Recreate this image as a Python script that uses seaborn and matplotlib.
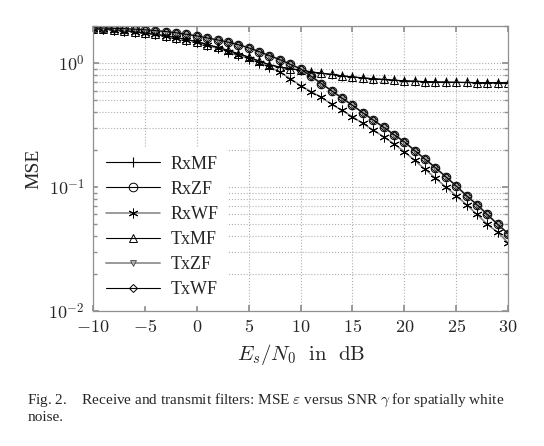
import numpy as np
import pandas as pd
import matplotlib
matplotlib.use("Agg")
import matplotlib.pyplot as plt
import seaborn as sns

snr_db = list(range(-10, 31))

mse_mf = [1.90, 1.88, 1.86, 1.83, 1.79, 1.75, 1.71, 1.66, 1.61, 1.55,
          1.49, 1.41, 1.34, 1.27, 1.19, 1.12, 1.04, 0.97, 0.93, 0.90,
          0.88, 0.85, 0.83, 0.81, 0.79, 0.775, 0.76, 0.748, 0.738, 0.728,
          0.72, 0.714, 0.709, 0.705, 0.702, 0.70, 0.698, 0.697, 0.696, 0.695, 0.695]

mse_zf = [1.93, 1.92, 1.91, 1.90, 1.88, 1.86, 1.83, 1.80, 1.76, 1.71,
          1.66, 1.60, 1.54, 1.48, 1.41, 1.33, 1.24, 1.15, 1.07, 0.98,
          0.90, 0.785, 0.685, 0.598, 0.522, 0.457, 0.398, 0.348, 0.304, 0.265,
          0.232, 0.197, 0.168, 0.143, 0.121, 0.102, 0.085, 0.072, 0.060, 0.050, 0.042]

mse_wf = [1.90, 1.88, 1.86, 1.83, 1.79, 1.75, 1.71, 1.66, 1.61, 1.55,
          1.49, 1.39, 1.32, 1.24, 1.16, 1.09, 1.01, 0.93, 0.85, 0.75,
          0.66, 0.59, 0.53, 0.465, 0.415, 0.37, 0.326, 0.288, 0.255, 0.223,
          0.193, 0.164, 0.139, 0.118, 0.100, 0.085, 0.072, 0.060, 0.050, 0.043, 0.0355]

series_names = ["RxMF", "RxZF", "RxWF", "TxMF", "TxZF", "TxWF"]
series_values = [mse_mf, mse_zf, mse_wf, mse_mf, mse_zf, mse_zf]

xticks = [-10, -5, 0, 5, 10, 15, 20, 25, 30]
yticks = [1e-2, 1e-1, 1e0]
ytick_labels = [r"$10^{-2}$", r"$10^{-1}$", r"$10^{0}$"]

sns.set_theme(style="white")
plt.rcParams["font.family"] = ["Liberation Serif", "DejaVu Serif"]
plt.rcParams["mathtext.fontset"] = "cm"

fig = plt.figure(figsize=(5.44, 4.46), dpi=100)
ax = fig.add_axes([0.171, 0.303, 0.763, 0.639])

styles = {
    "RxMF": dict(color="black", marker="+", markersize=7, markerfacecolor="none",
                 markeredgecolor="black", markeredgewidth=0.8, linewidth=0.8),
    "RxZF": dict(color="black", marker="o", markersize=6.2, markerfacecolor="none",
                 markeredgecolor="black", markeredgewidth=0.7, linewidth=0.8),
    "RxWF": dict(color="#808080", marker=(6, 2, 0), markersize=7, markerfacecolor="none",
                 markeredgecolor="black", markeredgewidth=0.7, linewidth=1.1),
    "TxMF": dict(color="black", marker="^", markersize=5.5, markerfacecolor="none",
                 markeredgecolor="black", markeredgewidth=0.7, linewidth=0.8),
    "TxZF": dict(color="#999999", marker="v", markersize=5.0, markerfacecolor="#b0b0b0",
                 markeredgecolor="#333333", markeredgewidth=0.5, linewidth=1.4),
    "TxWF": dict(color="black", marker="D", markersize=4.2, markerfacecolor="none",
                 markeredgecolor="black", markeredgewidth=0.7, linewidth=0.8),
}

for name, vals in zip(series_names, series_values):
    df = pd.DataFrame({"snr": snr_db, "mse": vals})
    sns.lineplot(data=df, x="snr", y="mse", ax=ax, label=name, **styles[name])

ax.set_yscale("log")
ax.set_xlim(-10, 30)
ax.set_ylim(1e-2, 2.0)
ax.set_xticks(xticks)
ax.set_xticklabels([f"${v}$" for v in xticks], fontsize=13)
ax.set_yticks(yticks)
ax.set_yticklabels(ytick_labels, fontsize=13)
ax.yaxis.set_minor_locator(matplotlib.ticker.LogLocator(base=10, subs=np.arange(2, 10)))
ax.yaxis.set_minor_formatter(matplotlib.ticker.NullFormatter())

ax.grid(True, which="major", axis="x", linestyle=":", color="#b0b0b0", linewidth=0.8)
ax.grid(True, which="both", axis="y", linestyle=":", color="#b0b0b0", linewidth=0.8)
ax.set_axisbelow(True)

for sp in ax.spines.values():
    sp.set_color("#909090")
    sp.set_linewidth(0.9)
ax.tick_params(axis="both", which="both", direction="in", color="#909090",
               left=True, bottom=True, right=True, top=True, length=3, pad=6)
ax.tick_params(axis="both", which="major", length=4)

ax.set_xlabel(r"$E_s/N_0\ \ \mathrm{in}\ \ \mathrm{dB}$", fontsize=15, labelpad=4)
ax.set_ylabel("MSE", fontsize=14, labelpad=4)

leg = ax.legend(loc="lower left", bbox_to_anchor=(0.0, 0.0), fontsize=13,
                frameon=True, facecolor="white", edgecolor="white", framealpha=1.0,
                handlelength=3.0, handletextpad=0.6, labelspacing=0.45,
                borderaxespad=0.3)

fig.text(0.05, 0.094,
         r"Fig. 2.    Receive and transmit filters: MSE $\varepsilon$ versus SNR $\gamma$ for spatially white",
         fontsize=11, va="baseline", ha="left")
fig.text(0.05, 0.056, "noise.", fontsize=11, va="baseline", ha="left")

fig.savefig("out.png", dpi=100)
